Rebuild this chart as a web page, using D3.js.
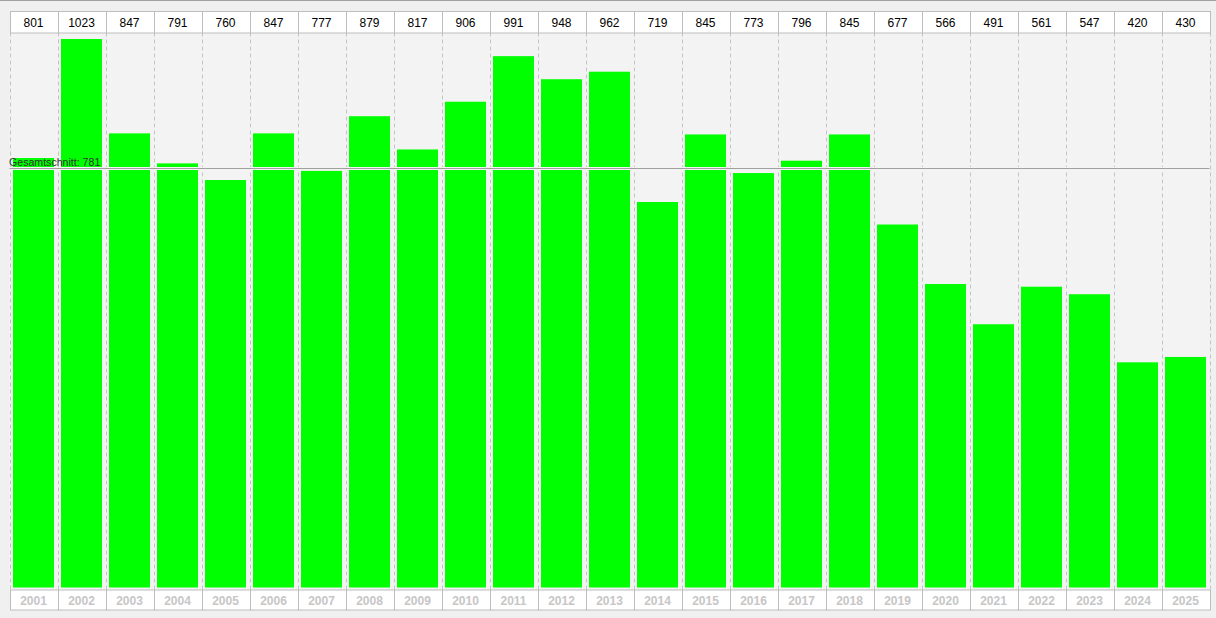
<!DOCTYPE html>
<html><head><meta charset="utf-8">
<script src="https://cdn.jsdelivr.net/npm/d3@7"></script>
<style>
html,body{margin:0;padding:0;background:#f0f0f0;}
svg{display:block;}
text{font-family:"Liberation Sans",Arial,sans-serif;}
</style></head>
<body>
<script>
const years = ["2001","2002","2003","2004","2005","2006","2007","2008","2009","2010","2011","2012","2013","2014","2015","2016","2017","2018","2019","2020","2021","2022","2023","2024","2025"];
const values = [801,1023,847,791,760,847,777,879,817,906,991,948,962,719,845,773,796,845,677,566,491,561,547,420,430];
const averageValue = 781;
const averageLabel = "Gesamtschnitt: ";

const W = 1216, H = 618;
const left = 9.5, right = 1209.5;
const topRowY = 11, topRowH = 21.5;
const plotTop = 32.5, baseY = 587.5;
const botRowY = 589.5, botRowH = 20;

const svg = d3.select("body").append("svg").attr("width", W).attr("height", H);
svg.append("rect").attr("width", W).attr("height", H).attr("fill", "#f0f0f0");
svg.append("line").attr("x1",0).attr("x2",W).attr("y1",0.5).attr("y2",0.5).attr("stroke","#a0a0a0");

const x = d3.scaleBand().domain(years).range([left, right]).paddingInner(0).paddingOuter(0);
const y = d3.scaleLinear().domain([0, d3.max(values)]).range([baseY, 39]);

// plot background
svg.append("rect").attr("x", left).attr("y", plotTop).attr("width", right-left).attr("height", botRowY-plotTop).attr("fill", "#f3f3f3");

// dashed column separators
const seps = years.map(d => x(d)).concat([right]);
svg.selectAll("line.sep").data(seps).enter().append("line")
  .attr("x1", d=>Math.round(d)+0.5).attr("x2", d=>Math.round(d)+0.5)
  .attr("y1", plotTop).attr("y2", botRowY)
  .attr("stroke", "#c4c4c4").attr("stroke-dasharray", "4,3");

// bars
const bw = x.bandwidth();
svg.selectAll("rect.bar").data(values).enter().append("rect")
  .attr("x", (d,i) => x(years[i]) + 3.5)
  .attr("width", bw - 7)
  .attr("y", d => y(d))
  .attr("height", d => baseY - y(d))
  .attr("fill", "#00ff00");

// average line with halo
const ay = Math.floor(y(averageValue)) + 0.5;
svg.append("rect").attr("x", left).attr("width", right-left).attr("y", ay-1.5).attr("height", 3).attr("fill", "#f3f3f3");
svg.append("line").attr("x1", left).attr("x2", right).attr("y1", ay).attr("y2", ay).attr("stroke", "#a0a0a0");
svg.append("text").attr("x", left - 0.5).attr("y", ay-3).attr("font-size", 10.6).attr("fill", "#333")
  .text(averageLabel + averageValue);

// top value row
svg.selectAll("rect.top").data(years).enter().append("rect")
  .attr("x", d => Math.round(x(d))+0.5).attr("y", topRowY+0.5)
  .attr("width", bw).attr("height", topRowH)
  .attr("fill", "#ffffff").attr("stroke", "#bdbdbd");
svg.selectAll("text.val").data(values).enter().append("text")
  .attr("x", (d,i) => x(years[i]) + bw/2).attr("y", topRowY + 16)
  .attr("text-anchor", "middle").attr("font-size", 12).attr("fill", "#000")
  .text(d => d);

// bottom year row
svg.selectAll("rect.bot").data(years).enter().append("rect")
  .attr("x", d => Math.round(x(d))+0.5).attr("y", botRowY+0.5)
  .attr("width", bw).attr("height", botRowH)
  .attr("fill", "#ffffff").attr("stroke", "#bdbdbd");
svg.selectAll("text.yr").data(years).enter().append("text")
  .attr("x", d => x(d) + bw/2).attr("y", botRowY + 15)
  .attr("text-anchor", "middle").attr("font-size", 12).attr("font-weight", "bold").attr("fill", "#c6c6c6")
  .text(d => d);
</script>
</body></html>
